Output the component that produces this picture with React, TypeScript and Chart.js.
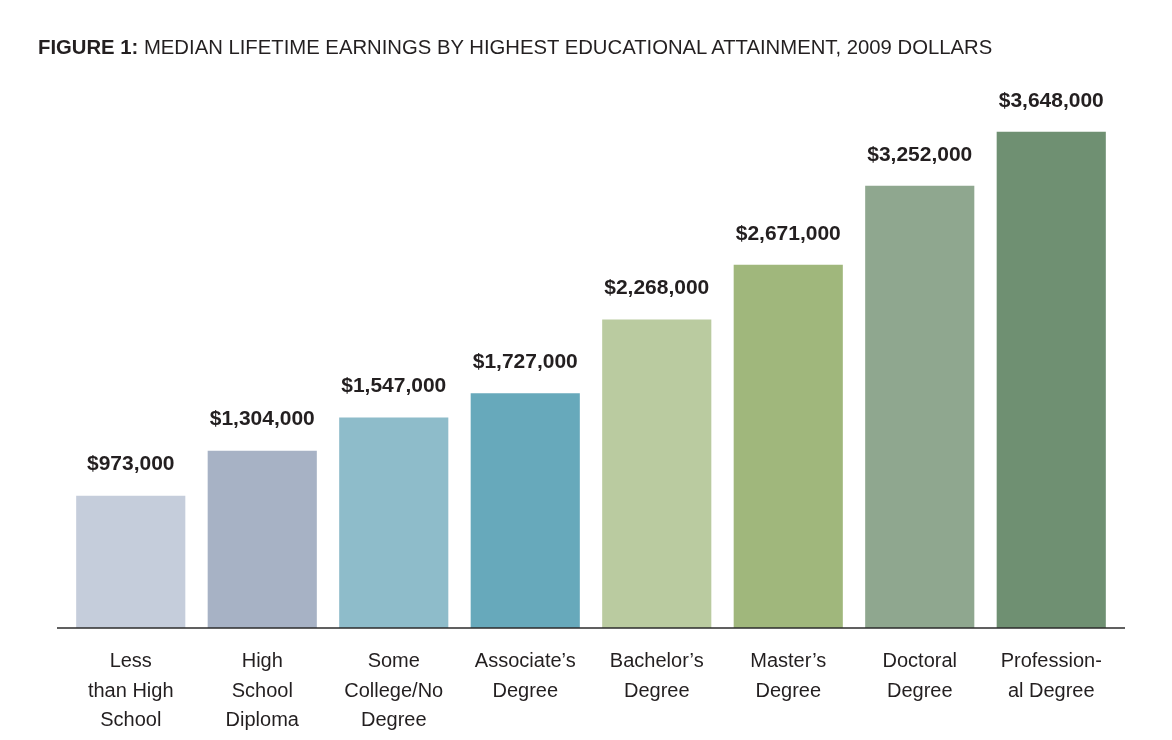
import React, { useEffect, useRef } from "react";
import { Chart, registerables } from "chart.js";

Chart.register(...registerables);

const categories: string[][] = [
  ["Less", "than High", "School"],
  ["High", "School", "Diploma"],
  ["Some", "College/No", "Degree"],
  ["Associate’s", "Degree"],
  ["Bachelor’s", "Degree"],
  ["Master’s", "Degree"],
  ["Doctoral", "Degree"],
  ["Profession-", "al Degree"],
];

const earnings: number[] = [973000, 1304000, 1547000, 1727000, 2268000, 2671000, 3252000, 3648000];

const barColors: string[] = [
  "#c5cddb",
  "#a7b2c5",
  "#8ebcca",
  "#67a9bb",
  "#bacba0",
  "#a0b77c",
  "#8fa78f",
  "#6f9072",
];

const titleBold = "FIGURE 1:";
const titleRest = " MEDIAN LIFETIME EARNINGS BY HIGHEST EDUCATIONAL ATTAINMENT, 2009 DOLLARS";

const FONT = "'Liberation Sans', Arial, Helvetica, sans-serif";
const TEXT = "#231f20";

const fmt = (v: number) => "$" + v.toLocaleString("en-US");

const valueLabelPlugin = {
  id: "valueLabels",
  afterDatasetsDraw(chart: any) {
    const ctx = chart.ctx;
    const meta = chart.getDatasetMeta(0);
    const area = chart.chartArea;
    ctx.save();
    // baseline axis line
    ctx.strokeStyle = "#2b2b2b";
    ctx.lineWidth = 1.5;
    ctx.beginPath();
    const yb = chart.scales.y.getPixelForValue(0);
    ctx.moveTo(area.left - 8, yb);
    ctx.lineTo(area.right + 8, yb);
    ctx.stroke();
    // value labels
    ctx.fillStyle = TEXT;
    ctx.font = `bold 21px ${FONT}`;
    ctx.textAlign = "center";
    ctx.textBaseline = "middle";
    meta.data.forEach((bar: any, i: number) => {
      ctx.fillText(fmt(earnings[i]), bar.x, bar.y - 31);
    });
    ctx.restore();
  },
};

export default function App() {
  const canvasRef = useRef<HTMLCanvasElement | null>(null);

  useEffect(() => {
    if (!canvasRef.current) return;
    const chart = new Chart(canvasRef.current, {
      type: "bar",
      data: {
        labels: categories,
        datasets: [
          {
            data: earnings,
            backgroundColor: barColors,
            borderWidth: 0,
            barPercentage: 0.83,
            categoryPercentage: 1,
          },
        ],
      },
      options: {
        responsive: false,
        animation: false,
        events: [],
        layout: { padding: { left: 65, right: 55, top: 84, bottom: 0 } },
        plugins: {
          legend: { display: false },
          tooltip: { enabled: false },
          title: { display: false },
        },
        scales: {
          x: {
            grid: { display: false, drawTicks: false },
            border: { display: false },
            ticks: {
              padding: 19,
              color: TEXT,
              font: { family: FONT, size: 20, lineHeight: 1.475 },
              maxRotation: 0,
              autoSkip: false,
            },
            afterFit: (scale: any) => {
              scale.height = 112;
            },
          },
          y: {
            display: false,
            min: 0,
            max: 4000000,
          },
        },
      },
      plugins: [valueLabelPlugin],
    });
    return () => chart.destroy();
  }, []);

  return (
    <div style={{ position: "fixed", left: 0, top: 0, width: 1172, height: 740, background: "#fff" }}>
      <canvas ref={canvasRef} width={1172} height={740} style={{ display: "block" }} />
      <div
        style={{
          position: "absolute",
          left: 38,
          top: 36,
          fontFamily: FONT,
          fontSize: 20.3,
          lineHeight: "22px",
          color: TEXT,
          whiteSpace: "nowrap",
        }}
      >
        <span style={{ fontWeight: "bold" }}>{titleBold}</span>
        <span>{titleRest}</span>
      </div>
    </div>
  );
}
